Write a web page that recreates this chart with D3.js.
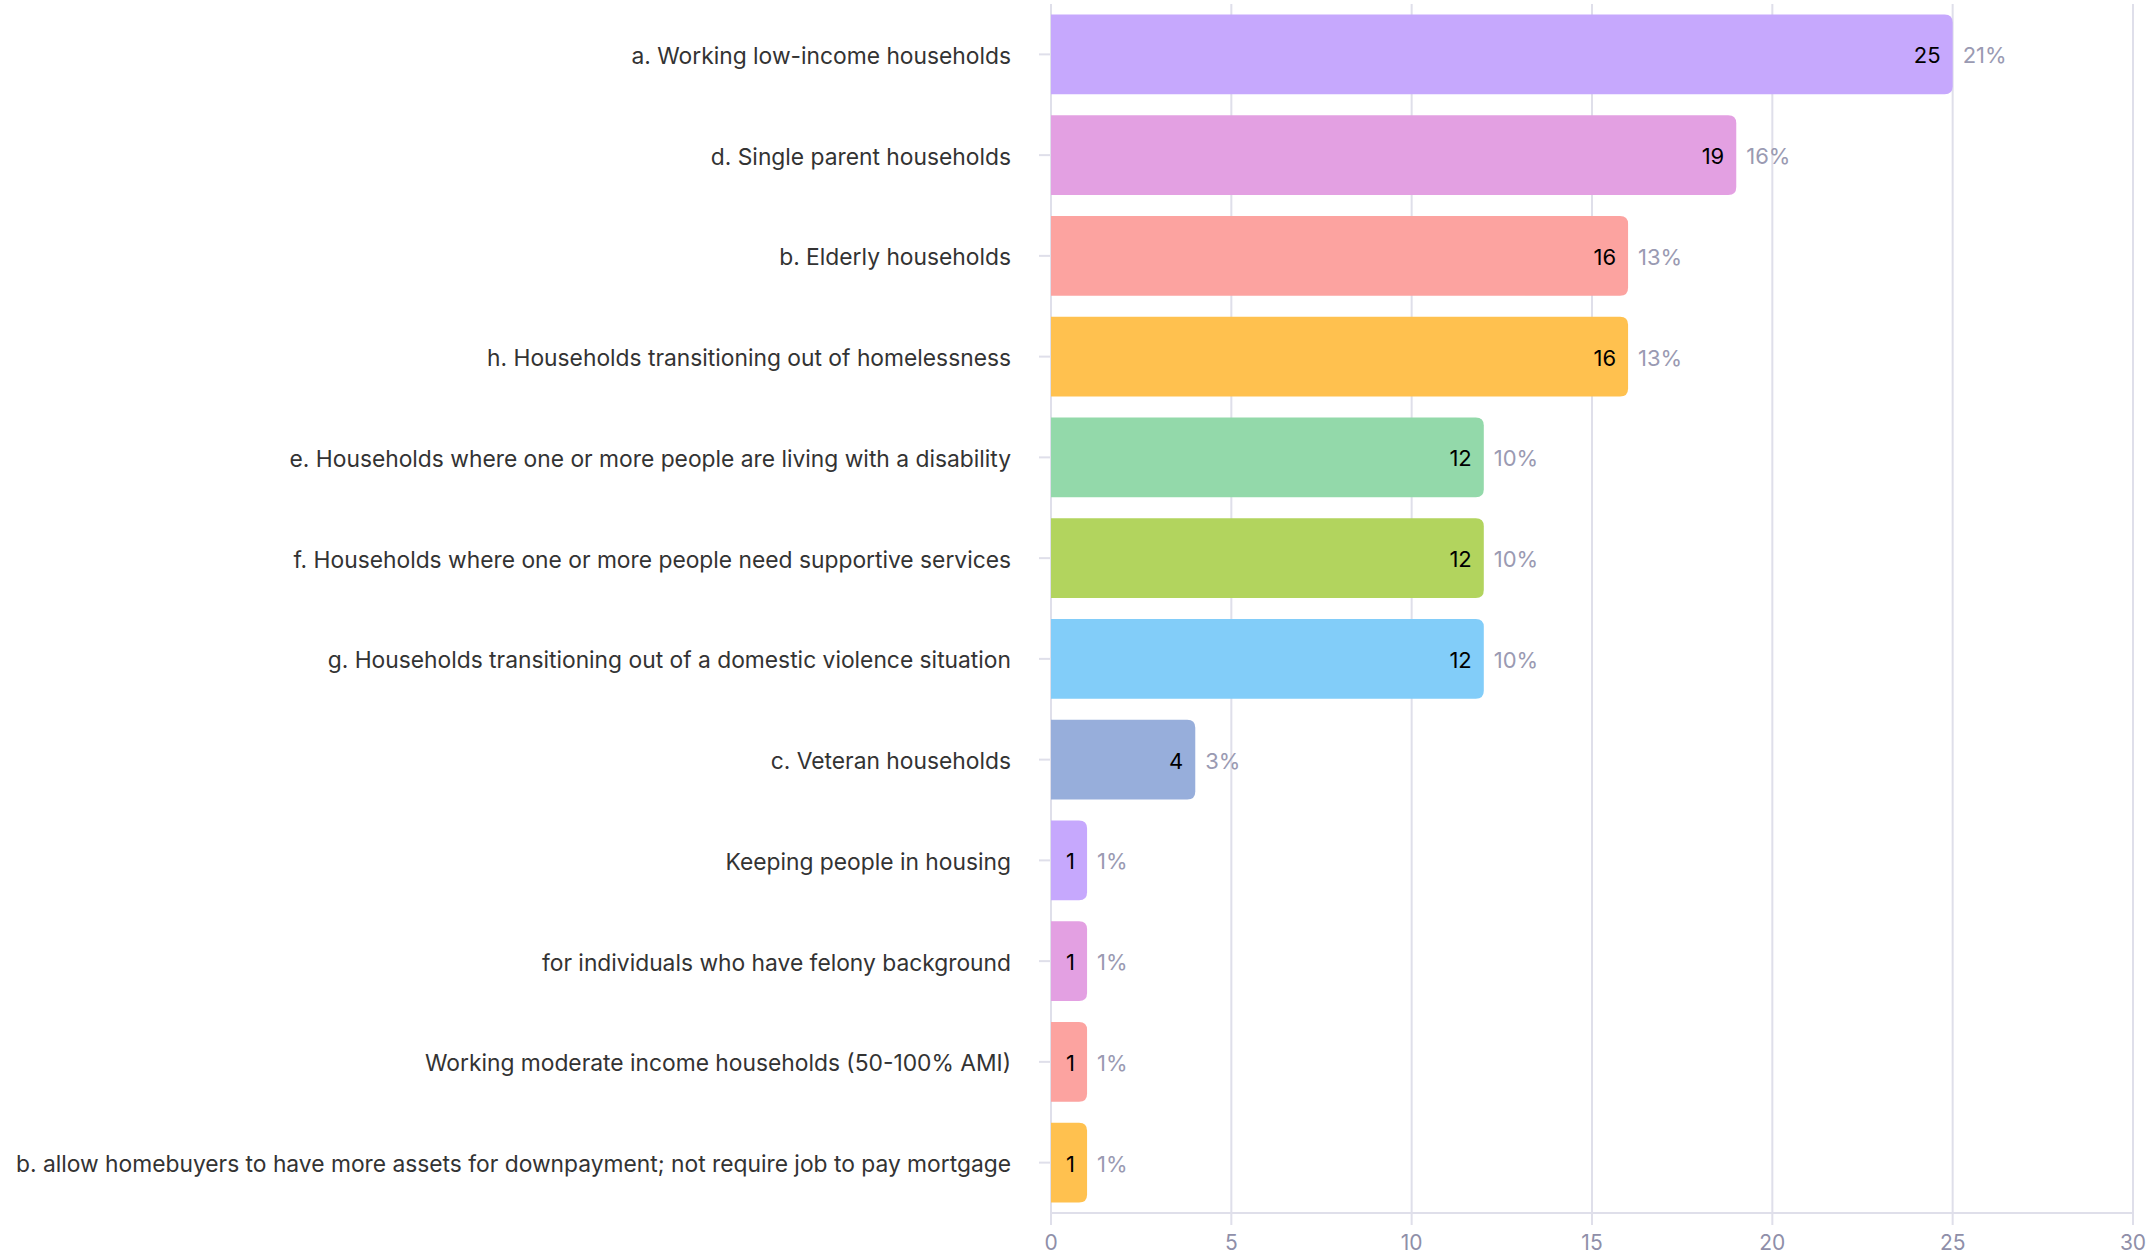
<!DOCTYPE html>
<html>
<head>
<meta charset="utf-8">
<script src="https://cdn.jsdelivr.net/npm/d3@7"></script>
<style>
  html, body { margin: 0; padding: 0; background: #ffffff; }
  svg { display: block; }
</style>
</head>
<body>
<svg id="chart" width="2148" height="1253"></svg>
<script>
// Responses per household type, in display order
const categories = [
  "a. Working low-income households",
  "d. Single parent households",
  "b. Elderly households",
  "h. Households transitioning out of homelessness",
  "e. Households where one or more people are living with a disability",
  "f. Households where one or more people need supportive services",
  "g. Households transitioning out of a domestic violence situation",
  "c. Veteran households",
  "Keeping people in housing",
  "for individuals who have felony background",
  "Working moderate income households (50-100% AMI)",
  "b. allow homebuyers to have more assets for downpayment; not require job to pay mortgage"
];
const counts = [25, 19, 16, 16, 12, 12, 12, 4, 1, 1, 1, 1];
const percents = ["21%", "16%", "13%", "13%", "10%", "10%", "10%", "3%", "1%", "1%", "1%", "1%"];
const xTicks = [0, 5, 10, 15, 20, 25, 30];
const palette = ["#c6a8fd", "#e3a0e2", "#fca3a0", "#ffc14f", "#93d9aa", "#b2d45e", "#82cdf9", "#97aedb"];

const svg = d3.select("#chart");
const plotLeft = 1051, plotRight = 2133, plotTop = 4, plotBottom = 1213;
const fontFamily = "Inter, 'Open Sans', sans-serif";
const gridColor = "#dfdfea";

const x = d3.scaleLinear().domain([0, 30]).range([plotLeft, plotRight]);
const y = d3.scaleBand().domain(categories).range([plotTop, plotBottom])
  .paddingInner(0.206).paddingOuter(0.103);
const mid = d => y(d) + y.bandwidth() / 2 + 1;

// vertical gridlines with short ticks below the baseline
const grid = svg.append("g");
grid.selectAll("line").data(xTicks).join("line")
  .attr("x1", d => x(d)).attr("x2", d => x(d))
  .attr("y1", plotTop).attr("y2", plotBottom + 12)
  .attr("stroke", gridColor).attr("stroke-width", 2);

// baseline
svg.append("line")
  .attr("x1", plotLeft).attr("x2", plotRight)
  .attr("y1", plotBottom).attr("y2", plotBottom)
  .attr("stroke", gridColor).attr("stroke-width", 2);

// x tick labels
svg.append("g").selectAll("text").data(xTicks).join("text")
  .attr("x", d => x(d)).attr("y", plotBottom + 29)
  .attr("text-anchor", "middle").attr("dominant-baseline", "central")
  .attr("font-family", fontFamily).attr("font-size", 21)
  .attr("fill", "#8f8fa9")
  .text(d => d);

// category ticks and labels
const yAxis = svg.append("g");
yAxis.selectAll("line").data(categories).join("line")
  .attr("x1", plotLeft - 12).attr("x2", plotLeft)
  .attr("y1", d => y(d) + y.bandwidth() / 2).attr("y2", d => y(d) + y.bandwidth() / 2)
  .attr("stroke", gridColor).attr("stroke-width", 2);
yAxis.selectAll("text").data(categories).join("text")
  .attr("x", plotLeft - 40)
  .attr("y", mid)
  .attr("text-anchor", "end").attr("dominant-baseline", "central")
  .attr("font-family", fontFamily).attr("font-size", 22.8)
  .attr("fill", "#333333")
  .text(d => d);

// bars: square on the baseline side, rounded at the end
const r = 8;
function barPath(x0, x1, y0, h) {
  const rr = Math.min(r, (x1 - x0) / 2, h / 2);
  return `M${x0},${y0}H${x1 - rr}Q${x1},${y0} ${x1},${y0 + rr}V${y0 + h - rr}Q${x1},${y0 + h} ${x1 - rr},${y0 + h}H${x0}Z`;
}
const rows = categories.map((c, i) => ({ c, v: counts[i], p: percents[i], i }));
const bars = svg.append("g");
bars.selectAll("path").data(rows).join("path")
  .attr("d", d => barPath(x(0), x(d.v), y(d.c), y.bandwidth()))
  .attr("fill", d => palette[d.i % palette.length]);

// count inside the bar end
svg.append("g").selectAll("text").data(rows).join("text")
  .attr("x", d => x(d.v) - 12)
  .attr("y", d => mid(d.c))
  .attr("text-anchor", "end").attr("dominant-baseline", "central")
  .attr("font-family", fontFamily).attr("font-size", 22)
  .attr("fill", "#000000")
  .text(d => d.v);

// share of responses after the bar
svg.append("g").selectAll("text").data(rows).join("text")
  .attr("x", d => x(d.v) + 10)
  .attr("y", d => mid(d.c))
  .attr("text-anchor", "start").attr("dominant-baseline", "central")
  .attr("font-family", fontFamily).attr("font-size", 22)
  .attr("fill", "#9a9ab2")
  .text(d => d.p);
</script>
</body>
</html>
